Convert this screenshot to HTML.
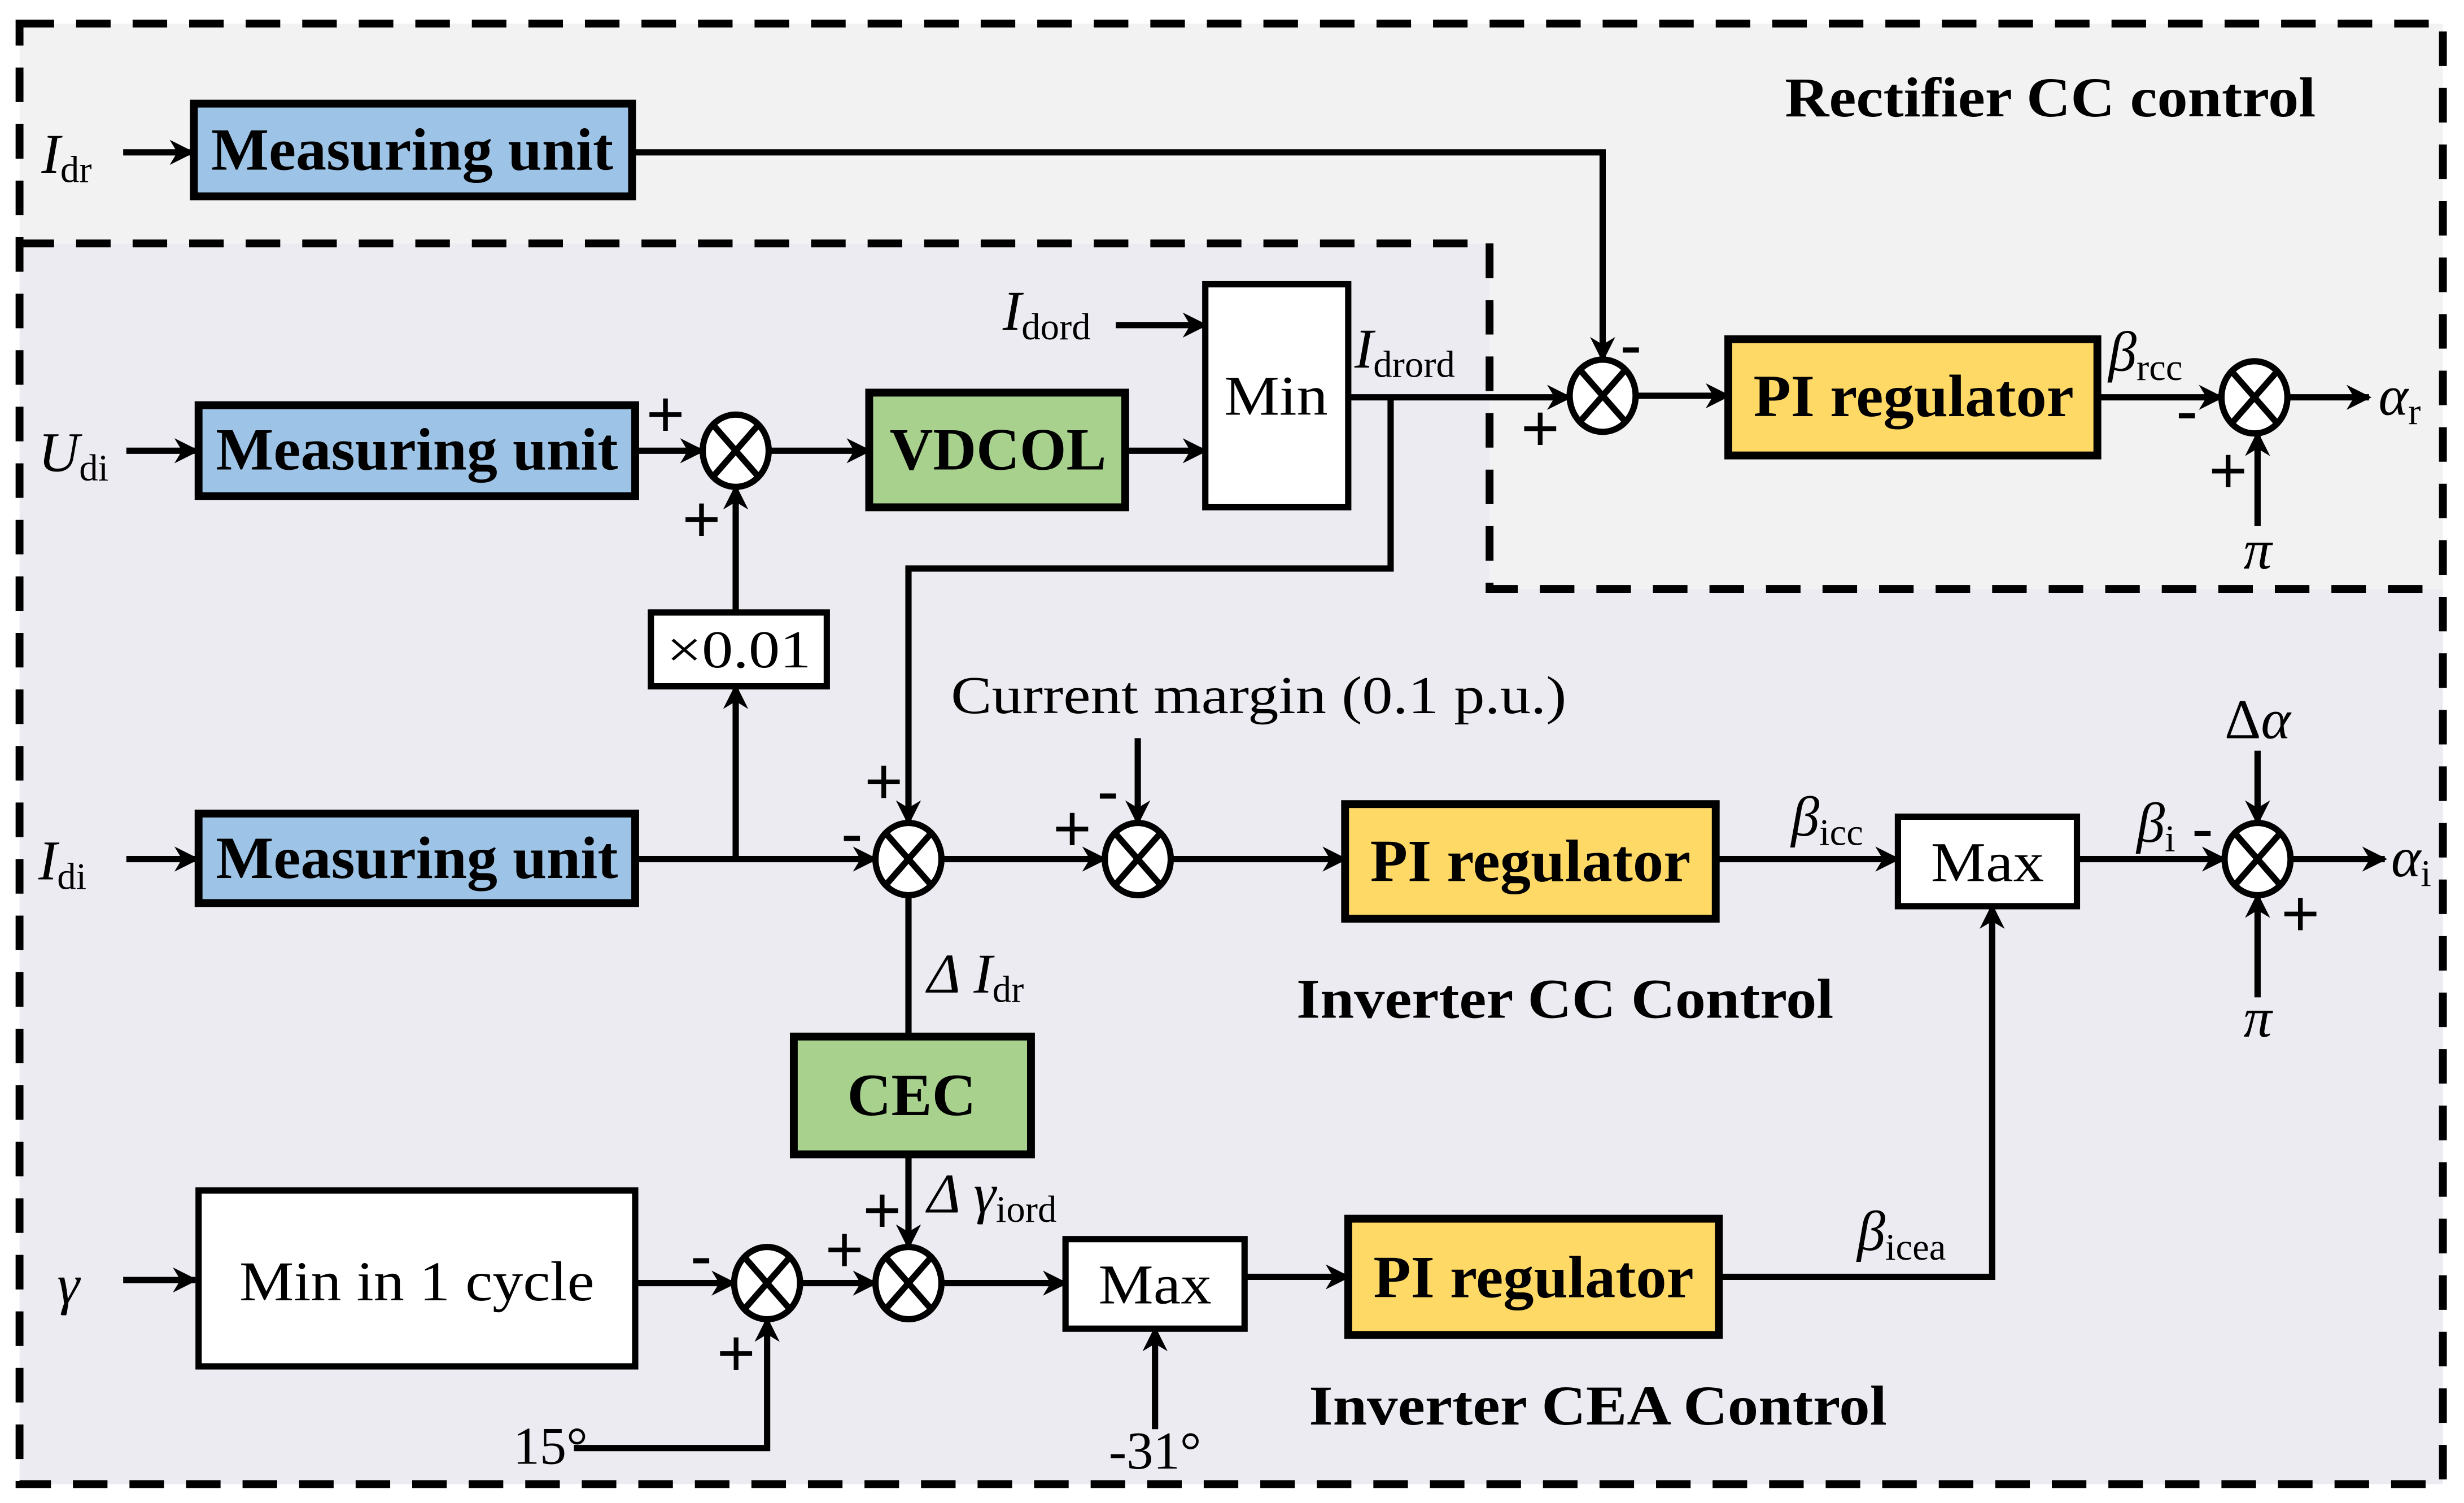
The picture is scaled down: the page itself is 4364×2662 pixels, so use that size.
<!DOCTYPE html>
<html><head><meta charset="utf-8"><style>html,body{margin:0;padding:0;background:#fff}svg{display:block}</style></head>
<body>
<svg width="4364" height="2662" viewBox="0 0 1568 957" xmlns="http://www.w3.org/2000/svg" font-family="Liberation Serif, serif">
<defs>
<marker id="A" viewBox="0 0 10 10" refX="9" refY="5" markerWidth="18" markerHeight="16" markerUnits="userSpaceOnUse" orient="auto"><path d="M0,0 L10,5 L0,10 L3,5 Z" fill="#000"/></marker>
</defs>
<rect width="1568" height="957" fill="#fff"/>
<path d="M12,15 H1555 V375 H948 V155 H12 Z" fill="#f2f2f2"/>
<path d="M12,155 H948 V375 H1555 V945 H12 Z" fill="#edebf2"/>
<g fill="none" stroke="#000" stroke-width="5" stroke-dasharray="22,14">
<path d="M12,15 H1555 V945 H12 Z"/>
<path d="M12,155 H948 V375 H1555"/>
</g>
<g stroke="#000" stroke-width="5">
<rect x="123" y="66" width="279" height="59" fill="#9dc3e6"/>
<rect x="126" y="258" width="278" height="58" fill="#9dc3e6"/>
<rect x="126" y="518" width="278" height="57" fill="#9dc3e6"/>
<rect x="553" y="250" width="163" height="73" fill="#a9d18e"/>
<rect x="505" y="660" width="151" height="75" fill="#a9d18e"/>
<rect x="1100" y="216" width="235" height="74" fill="#ffd966"/>
<rect x="856" y="512" width="236" height="73" fill="#ffd966"/>
<rect x="858" y="776" width="236" height="74" fill="#ffd966"/>
<rect x="767" y="181" width="91" height="142" fill="#fff" stroke-width="4"/>
<rect x="414" y="390" width="112" height="47" fill="#fff" stroke-width="4"/>
<rect x="1208" y="520" width="114" height="57" fill="#fff" stroke-width="4"/>
<rect x="678" y="789" width="114" height="57" fill="#fff" stroke-width="4"/>
<rect x="126" y="758" width="278" height="112" fill="#fff" stroke-width="4"/>
</g>
<g stroke="#000" stroke-width="4" fill="#fff">
<ellipse cx="1020" cy="252" rx="21" ry="23"/><path d="M1006,236 L1034,268 M1034,236 L1006,268"/>
<ellipse cx="1435" cy="253" rx="21" ry="23"/><path d="M1421,237 L1449,269 M1449,237 L1421,269"/>
<ellipse cx="468" cy="287" rx="21" ry="23"/><path d="M454,271 L482,303 M482,271 L454,303"/>
<ellipse cx="578" cy="547" rx="21" ry="23"/><path d="M564,531 L592,563 M592,531 L564,563"/>
<ellipse cx="724" cy="547" rx="21" ry="23"/><path d="M710,531 L738,563 M738,531 L710,563"/>
<ellipse cx="1437" cy="547" rx="21" ry="23"/><path d="M1423,531 L1451,563 M1451,531 L1423,563"/>
<ellipse cx="488" cy="817" rx="21" ry="23"/><path d="M474,801 L502,833 M502,801 L474,833"/>
<ellipse cx="578" cy="817" rx="21" ry="23"/><path d="M564,801 L592,833 M592,801 L564,833"/>
</g>
<g stroke="#000" stroke-width="4" fill="none" marker-end="url(#A)">
<path d="M78,97 H122"/>
<path d="M402,97 H1020 V229"/>
<path d="M80,287 H125"/>
<path d="M404,287 H447"/>
<path d="M489,287 H553"/>
<path d="M716,287 H767"/>
<path d="M710,207 H767"/>
<path d="M858,253 H999"/>
<path d="M885,253 V362 H578 V524"/>
<path d="M1041,252 H1100"/>
<path d="M1335,253 H1414"/>
<path d="M1456,253 H1508"/>
<path d="M1437,335 V276"/>
<path d="M468,547 V437"/>
<path d="M468,390 V310"/>
<path d="M80,547 H125"/>
<path d="M404,547 H557"/>
<path d="M599,547 H703"/>
<path d="M724,470 V524"/>
<path d="M745,547 H856"/>
<path d="M1092,547 H1208"/>
<path d="M1322,547 H1416"/>
<path d="M1458,547 H1518"/>
<path d="M1437,478 V524"/>
<path d="M1437,635 V570"/>
<path d="M578,735 V794"/>
<path d="M78,815 H124"/>
<path d="M404,817 H467"/>
<path d="M365,922 H488 V840"/>
<path d="M509,817 H557"/>
<path d="M599,817 H678"/>
<path d="M735,910 V846"/>
<path d="M792,813 H858"/>
<path d="M1094,813 H1268 V577"/>
</g>
<path d="M578,570 V660" stroke="#000" stroke-width="4"/>
<g font-weight="bold" font-size="38" text-anchor="middle">
<text x="262" y="108" textLength="256" lengthAdjust="spacingAndGlyphs">Measuring unit</text>
<text x="265" y="299" textLength="256" lengthAdjust="spacingAndGlyphs">Measuring unit</text>
<text x="265" y="559" textLength="256" lengthAdjust="spacingAndGlyphs">Measuring unit</text>
<text x="635" y="299" textLength="138" lengthAdjust="spacingAndGlyphs">VDCOL</text>
<text x="580" y="710" textLength="82" lengthAdjust="spacingAndGlyphs">CEC</text>
<text x="1218" y="265" textLength="204" lengthAdjust="spacingAndGlyphs">PI regulator</text>
<text x="974" y="561" textLength="204" lengthAdjust="spacingAndGlyphs">PI regulator</text>
<text x="976" y="826" textLength="204" lengthAdjust="spacingAndGlyphs">PI regulator</text>
<text x="1305" y="74" font-size="36" textLength="338" lengthAdjust="spacingAndGlyphs">Rectifier CC control</text>
<text x="996" y="648" font-size="36" textLength="342" lengthAdjust="spacingAndGlyphs">Inverter CC Control</text>
<text x="1017" y="907" font-size="36" textLength="368" lengthAdjust="spacingAndGlyphs">Inverter CEA Control</text>
</g>
<g font-size="36" text-anchor="middle">
<text x="812" y="264" textLength="66" lengthAdjust="spacingAndGlyphs">Min</text>
<text x="470" y="425" font-size="34" textLength="92" lengthAdjust="spacingAndGlyphs">×0.01</text>
<text x="1265" y="561" textLength="72" lengthAdjust="spacingAndGlyphs">Max</text>
<text x="735" y="830" textLength="72" lengthAdjust="spacingAndGlyphs">Max</text>
<text x="265" y="828" textLength="226" lengthAdjust="spacingAndGlyphs">Min in 1 cycle</text>
<text x="801" y="454" font-size="34" textLength="392" lengthAdjust="spacingAndGlyphs">Current margin (0.1 p.u.)</text>
<text x="350" y="932" font-size="34">15°</text>
<text x="735" y="935" font-size="34">-31°</text>
</g>
<g font-size="36">
<text x="26" y="110" font-style="italic">I<tspan font-size="24" font-style="normal" dy="6">dr</tspan></text>
<text x="24" y="300" font-style="italic">U<tspan font-size="24" font-style="normal" dy="6">di</tspan></text>
<text x="24" y="560" font-style="italic">I<tspan font-size="24" font-style="normal" dy="6">di</tspan></text>
<text x="36" y="830" font-style="italic">γ</text>
<text x="638" y="210" font-style="italic">I<tspan font-size="24" font-style="normal" dy="6">dord</tspan></text>
<text x="862" y="234" font-style="italic">I<tspan font-size="24" font-style="normal" dy="6">drord</tspan></text>
<text x="1342" y="236" font-style="italic">β<tspan font-size="24" font-style="normal" dy="6">rcc</tspan></text>
<text x="1514" y="264" font-style="italic">α<tspan font-size="24" font-style="normal" dy="6">r</tspan></text>
<text x="1428" y="362" font-style="italic">π</text>
<text x="1140" y="532" font-style="italic">β<tspan font-size="24" font-style="normal" dy="6">icc</tspan></text>
<text x="1360" y="536" font-style="italic">β<tspan font-size="24" font-style="normal" dy="6">i</tspan></text>
<text x="1522" y="558" font-style="italic">α<tspan font-size="24" font-style="normal" dy="6">i</tspan></text>
<text x="1416" y="470">Δ<tspan font-style="italic">α</tspan></text>
<text x="1428" y="660" font-style="italic">π</text>
<text x="590" y="632" font-style="italic">Δ I<tspan font-size="24" font-style="normal" dy="6">dr</tspan></text>
<text x="590" y="772" font-style="italic">Δ γ<tspan font-size="24" font-style="normal" dy="6">iord</tspan></text>
<text x="1182" y="796" font-style="italic">β<tspan font-size="24" font-style="normal" dy="6">icea</tspan></text>
</g>
<g font-size="42" font-family="Liberation Sans, sans-serif">
<text x="411" y="278">+</text>
<text x="434" y="345">+</text>
<text x="968" y="287">+</text>
<text x="1031" y="234">-</text>
<text x="1385" y="276">-</text>
<text x="1406" y="314">+</text>
<text x="550" y="512">+</text>
<text x="535" y="545">-</text>
<text x="670" y="542">+</text>
<text x="698" y="518">-</text>
<text x="1395" y="542">-</text>
<text x="1452" y="596">+</text>
<text x="549" y="785">+</text>
<text x="525" y="810">+</text>
<text x="439" y="814">-</text>
<text x="456" y="876">+</text>
</g>
</svg>
</body></html>
